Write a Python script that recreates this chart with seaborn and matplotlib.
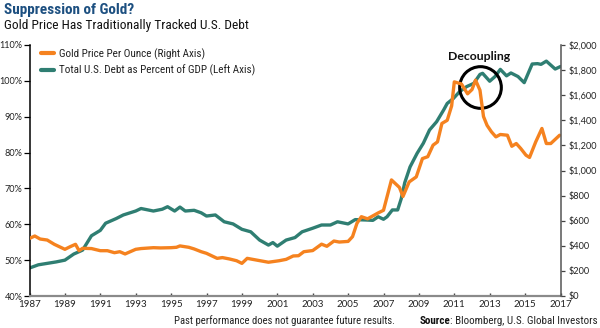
import matplotlib
matplotlib.use("Agg")
import matplotlib.pyplot as plt
from matplotlib import font_manager
from matplotlib.lines import Line2D
from matplotlib.ticker import FuncFormatter, MultipleLocator
import pandas as pd
import seaborn as sns

# Total U.S. debt as percent of GDP (left axis)
debt_years = [1987.0, 1987.5, 1988.0, 1988.5, 1989.0, 1989.5, 1990.0, 1990.5, 1991.0, 1991.3,
              1991.9, 1992.3, 1993.0, 1993.3, 1994.0, 1994.5, 1994.8, 1995.2, 1995.5, 1995.8,
              1996.3, 1996.7, 1997.0, 1997.5, 1998.0, 1998.5, 1999.0, 1999.5, 2000.0, 2000.5,
              2000.75, 2001.0, 2001.5, 2002.0, 2002.4, 2003.0, 2003.5, 2004.0, 2004.4, 2005.0,
              2005.4, 2006.0, 2006.4, 2006.7, 2007.0, 2007.2, 2007.5, 2007.8, 2008.0, 2008.2,
              2008.5, 2008.9, 2009.25, 2009.6, 2010.0, 2010.4, 2010.6, 2010.95, 2011.3, 2011.7,
              2012.1, 2012.45, 2012.6, 2013.0, 2013.3, 2013.6, 2013.95, 2014.2, 2014.6, 2014.95,
              2015.4, 2015.7, 2015.9, 2016.2, 2016.7, 2017.0]
debt_pct = [47.8, 48.7, 49.1, 49.5, 50.0, 51.7, 52.8, 56.8, 58.3, 60.3,
            61.6, 62.6, 63.7, 64.4, 63.7, 64.2, 64.9, 63.7, 64.8, 63.7,
            63.9, 63.2, 62.3, 62.6, 60.7, 60.1, 58.6, 57.9, 55.6, 54.2,
            54.9, 53.9, 55.6, 56.3, 57.9, 58.9, 59.8, 59.8, 60.7, 60.1,
            61.3, 61.2, 61.1, 62.1, 61.4, 62.1, 64.0, 64.0, 67.1, 71.6,
            76.0, 79.8, 82.6, 86.3, 88.6, 91.9, 93.7, 95.1, 97.0, 98.4,
            99.3, 101.8, 102.1, 99.9, 101.2, 103.2, 101.4, 102.2, 101.2, 99.5,
            104.7, 104.8, 104.6, 105.5, 103.3, 104.0]

# Gold price per ounce in USD (right axis)
gold_years = [1987.0, 1987.3, 1987.6, 1988.0, 1988.4, 1989.0, 1989.3, 1989.6, 1989.8, 1990.0,
              1990.5, 1991.0, 1991.4, 1991.8, 1992.1, 1992.4, 1993.0, 1993.3, 1994.0, 1994.4,
              1995.0, 1995.3, 1995.5, 1996.0, 1996.3, 1996.7, 1997.0, 1997.6, 1997.9, 1998.3,
              1998.7, 1999.0, 1999.3, 1999.8, 2000.5, 2001.1, 2001.5, 2001.9, 2002.2, 2002.5,
              2003.0, 2003.5, 2003.8, 2004.2, 2004.5, 2005.0, 2005.25, 2005.5, 2005.75, 2006.1,
              2006.7, 2007.0, 2007.45, 2007.9, 2008.1, 2008.45, 2008.85, 2009.2, 2009.5, 2009.8,
              2010.05, 2010.3, 2010.6, 2010.85, 2011.0, 2011.4, 2011.75, 2012.0, 2012.2, 2012.45,
              2012.65, 2012.85, 2013.1, 2013.35, 2013.6, 2014.0, 2014.25, 2014.5, 2014.75, 2015.05,
              2015.25, 2015.6, 2015.95, 2016.2, 2016.45, 2016.95]
gold_price = [459, 478, 454, 446, 412, 372, 393, 412, 361, 380,
              378, 361, 361, 345, 353, 335, 372, 378, 385, 383,
              385, 388, 399, 388, 375, 353, 340, 300, 306, 295,
              281, 260, 300, 287, 269, 281, 292, 319, 321, 353,
              362, 413, 396, 438, 430, 435, 473, 579, 632, 615,
              662, 683, 925, 865, 793, 909, 949, 1095, 1110, 1202,
              1228, 1375, 1400, 1515, 1706, 1690, 1611, 1645, 1720, 1640,
              1430, 1360, 1308, 1268, 1287, 1281, 1193, 1215, 1176, 1122,
              1104, 1228, 1335, 1215, 1215, 1281]

series_labels = ["Gold Price Per Ounce (Right Axis)", "Total U.S. Debt as Percent of GDP (Left Axis)"]
year_ticks = list(range(1987, 2018, 2))

DECOUPLE_YEAR, DECOUPLE_PCT = 2012.48, 98.2

GOLD_COLOR = "#F5821F"
DEBT_COLOR = "#2F7E72"
TITLE_COLOR = "#1C4F80"
TEXT_COLOR = "#222222"


def pick_font(*names):
    available = {f.name for f in font_manager.fontManager.ttflist}
    for n in names:
        if n in available:
            return n
    return "DejaVu Sans"


sns.set_theme(style="white")
NARROW = pick_font("Liberation Sans Narrow", "Roboto Condensed", "Liberation Sans")
ROUND = pick_font("Lato", "Open Sans", "Liberation Sans")
plt.rcParams["font.family"] = [NARROW, "DejaVu Sans"]

debt_df = pd.DataFrame({"year": debt_years, "pct": debt_pct})
gold_df = pd.DataFrame({"year": gold_years, "price": gold_price})

fig = plt.figure(figsize=(6.0, 3.28), dpi=100)
ax = fig.add_axes([29.5 / 600, 1 - 296 / 328, (560.5 - 29.5) / 600, (296 - 45) / 328])
ax2 = ax.twinx()

sns.lineplot(data=debt_df, x="year", y="pct", ax=ax, color=DEBT_COLOR, linewidth=2.4)
sns.lineplot(data=gold_df, x="year", y="price", ax=ax2, color=GOLD_COLOR, linewidth=2.4)

ax.set_xlim(1987, 2017)
ax.set_ylim(40, 110)
ax2.set_ylim(0, 2000)
ax.set_xticks(year_ticks)
ax.yaxis.set_major_locator(MultipleLocator(10))
ax2.yaxis.set_major_locator(MultipleLocator(200))
ax.yaxis.set_major_formatter(FuncFormatter(lambda v, p: f"{v:.0f}%"))
ax2.yaxis.set_major_formatter(FuncFormatter(lambda v, p: f"${v:,.0f}"))
for a in (ax, ax2):
    a.set_xlabel("")
    a.set_ylabel("")
    a.grid(False)
    a.spines["top"].set_visible(False)

ax.spines["left"].set_color("black")
ax.spines["left"].set_linewidth(1.1)
ax.spines["right"].set_visible(False)
ax.spines["bottom"].set_color("#8a8a8a")
ax.spines["bottom"].set_linewidth(1.6)
ax2.spines["left"].set_visible(False)
ax2.spines["bottom"].set_visible(False)
ax2.spines["right"].set_color("#555555")
ax2.spines["right"].set_linewidth(1.1)

ax.tick_params(axis="y", left=True, direction="out", length=4, width=0.9, color="black",
               pad=1.2, labelsize=6.6, labelcolor=TEXT_COLOR)
ax.tick_params(axis="x", bottom=True, direction="in", length=2.5, width=1.0, color="#444444",
               pad=3, labelsize=7.0, labelcolor=TEXT_COLOR)
ax2.tick_params(axis="y", right=True, direction="out", length=3, width=0.9, color="#444444",
                pad=3, labelsize=6.6, labelcolor=TEXT_COLOR)
for lbl in ax.get_xticklabels() + ax.get_yticklabels() + ax2.get_yticklabels():
    lbl.set_family([ROUND, "DejaVu Sans"])

# Decoupling callout
ax.plot([DECOUPLE_YEAR], [DECOUPLE_PCT], marker="o", markersize=30, markerfacecolor="none",
        markeredgecolor="black", markeredgewidth=2.2, zorder=10, clip_on=False)
ax.text(DECOUPLE_YEAR - 0.1, 106.9, "Decoupling", ha="center", va="center", fontsize=8.8,
        fontweight="bold", color="#111111", family=[ROUND, "DejaVu Sans"])

# Legend
handles = [Line2D([], [], color=GOLD_COLOR, linewidth=3.0),
           Line2D([], [], color=DEBT_COLOR, linewidth=3.0)]
leg = ax.legend(handles, series_labels, loc="upper left", bbox_to_anchor=(41 / 600, 1 - 48 / 328),
                bbox_transform=fig.transFigure, frameon=False, fontsize=8.0, handlelength=1.15,
                handletextpad=0.45, labelspacing=0.45, borderpad=0, borderaxespad=0)
for t in leg.get_texts():
    t.set_color(TEXT_COLOR)

# Titles and footer
fig.text(4 / 600, 1 - 3 / 328, "Suppression of Gold?", ha="left", va="top", fontsize=11,
         fontweight="bold", color=TITLE_COLOR)
fig.text(4 / 600, 1 - 19 / 328, "Gold Price Has Traditionally Tracked U.S. Debt", ha="left",
         va="top", fontsize=9.6, color="#111111")
fig.text(174 / 600, 1 - 321 / 328, "Past performance does not guarantee future results.",
         ha="left", va="center", fontsize=7.7, color=TEXT_COLOR)
src = fig.text(598 / 600, 1 - 321 / 328, ": Bloomberg, U.S. Global Investors",
               ha="right", va="center", fontsize=7.9, color=TEXT_COLOR)
fig.canvas.draw()
src_left = src.get_window_extent().x0
fig.text(src_left / 600, 1 - 321 / 328, "Source", ha="right", va="center", fontsize=7.9,
         fontweight="bold", color="#111111")

fig.savefig("out.png", dpi=100)
